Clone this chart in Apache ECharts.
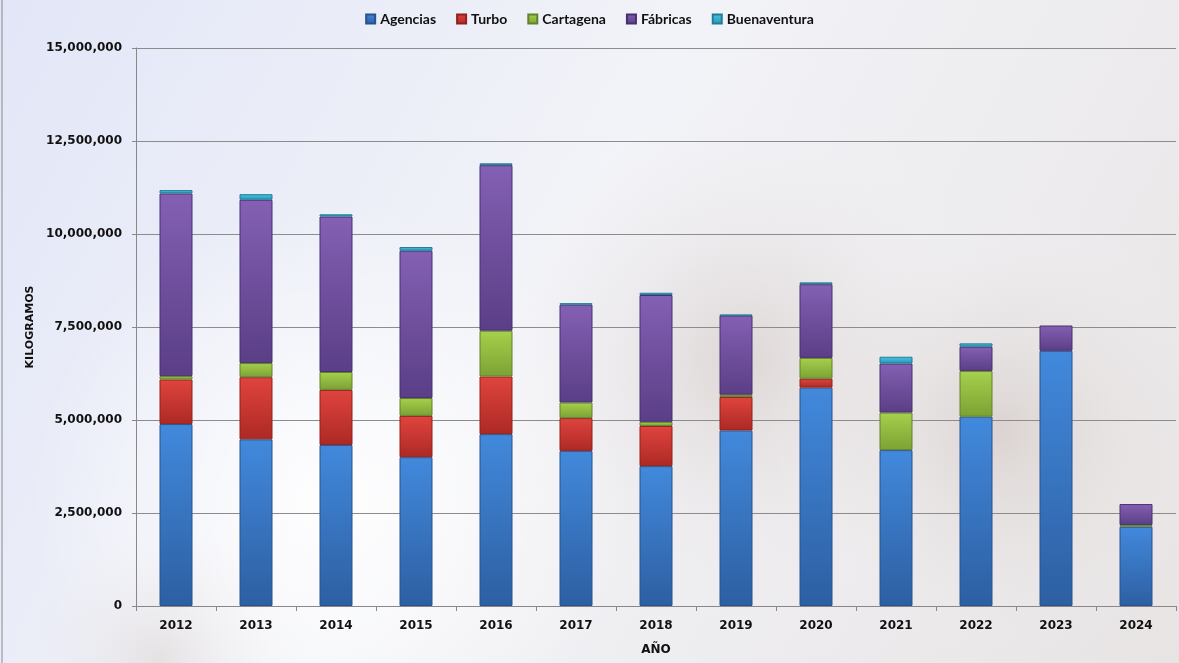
<!DOCTYPE html>
<html>
<head>
<meta charset="utf-8">
<script src="https://cdn.jsdelivr.net/npm/echarts@6/dist/echarts.min.js"></script>
<style>
  html, body { margin: 0; padding: 0; }
  #chart { width: 1179px; height: 663px; }
</style>
</head>
<body>
<div id="chart"></div>
<script>
  // years on the x axis
  const years = ['2012', '2013', '2014', '2015', '2016', '2017', '2018', '2019', '2020', '2021', '2022', '2023', '2024'];

  // kilograms per origin
  const agencias = [4890000, 4480000, 4330000, 4000000, 4620000, 4170000, 3760000, 4720000, 5870000, 4190000, 5090000, 6860000, 2130000];
  const turbo = [1200000, 1670000, 1480000, 1110000, 1550000, 880000, 1080000, 900000, 240000, 0, 0, 0, 0];
  const cartagena = [90000, 380000, 480000, 480000, 1230000, 420000, 110000, 60000, 560000, 1010000, 1230000, 0, 50000];
  const fabricas = [4910000, 4390000, 4180000, 3960000, 4450000, 2630000, 3410000, 2130000, 1980000, 1320000, 650000, 680000, 560000];
  const buenaventura = [90000, 150000, 60000, 100000, 50000, 40000, 60000, 20000, 50000, 180000, 90000, 0, 0];

  const seriesNames = ['Agencias', 'Turbo', 'Cartagena', 'Fábricas', 'Buenaventura'];
  const seriesData = [agencias, turbo, cartagena, fabricas, buenaventura];
  // top colour, bottom colour, border colour
  const palette = [
    ['#4289dc', '#2d5fa2', '#28528c'],
    ['#e0443e', '#ad2924', '#902020'],
    ['#a6d04c', '#7ba234', '#60822a'],
    ['#8460b4', '#5a3e86', '#48306e'],
    ['#48c6e2', '#2896b6', '#1f7d98']
  ];

  function blob(cx, cy, r, color) {
    return {
      type: 'circle',
      shape: { cx: cx, cy: cy, r: r },
      style: {
        fill: new echarts.graphic.RadialGradient(0.5, 0.5, 0.5, [
          { offset: 0, color: color },
          { offset: 1, color: 'rgba(255,255,255,0)' }
        ])
      },
      z: -10,
      silent: true
    };
  }

  const chart = echarts.init(document.getElementById('chart'));

  const series = seriesNames.map(function (name, i) {
    return {
      name: name,
      type: 'bar',
      stack: 'total',
      barWidth: 33,
      data: seriesData[i].map(function (v) { return v === 0 ? '-' : v; }),
      itemStyle: {
        color: new echarts.graphic.LinearGradient(0, 0, 0, 1, [
          { offset: 0, color: palette[i][0] },
          { offset: 1, color: palette[i][1] }
        ]),
        borderColor: palette[i][2],
        borderWidth: 1
      }
    };
  });

  const option = {
    backgroundColor: new echarts.graphic.LinearGradient(0, 0, 1, 1, [
      { offset: 0, color: '#e2e6f7' },
      { offset: 0.45, color: '#f2f3f8' },
      { offset: 1, color: '#e8e4e4' }
    ]),
    animation: false,
    color: palette.map(function (p) { return p[0]; }),
    graphic: [
      // faded photo feel behind the plot
      blob(330, 500, 300, 'rgba(255,255,255,0.95)'),
      blob(740, 360, 280, 'rgba(190,170,160,0.35)'),
      blob(1000, 430, 240, 'rgba(180,160,150,0.3)'),
      blob(160, 660, 160, 'rgba(200,185,175,0.3)'),
      { type: 'rect', shape: { x: 2, y: -2, width: 1200, height: 670 }, style: { fill: 'none', stroke: '#8a8a8a', lineWidth: 1 }, silent: true }
    ],
    legend: {
      top: 7,
      left: 'center',
      itemWidth: 9,
      itemHeight: 9,
      itemGap: 20,
      icon: 'rect',
      textStyle: { fontFamily: 'Lato', fontWeight: 'bold', fontSize: 14, color: '#111' }
    },
    grid: {
      left: 136,
      right: 3,
      top: 48,
      bottom: 57
    },
    xAxis: {
      type: 'category',
      data: years,
      name: 'AÑO',
      nameLocation: 'middle',
      nameGap: 38,
      nameTextStyle: { fontFamily: 'DejaVu Sans', fontWeight: 'bold', fontSize: 12, color: '#111' },
      axisLine: { lineStyle: { color: '#888' } },
      axisTick: { show: true, length: 5, lineStyle: { color: '#888' } },
      axisLabel: { fontFamily: 'DejaVu Sans', fontWeight: 'bold', fontSize: 12, color: '#111', margin: 14 }
    },
    yAxis: {
      type: 'value',
      min: 0,
      max: 15000000,
      interval: 2500000,
      name: 'KILOGRAMOS',
      nameLocation: 'middle',
      nameGap: 98,
      nameTextStyle: { fontFamily: 'DejaVu Sans', fontWeight: 'bold', fontSize: 11, color: '#111' },
      axisLine: { show: true, lineStyle: { color: '#888' } },
      axisTick: { show: true, length: 4, lineStyle: { color: '#888' } },
      axisLabel: {
        fontFamily: 'DejaVu Sans',
        fontWeight: 'bold',
        fontSize: 12,
        color: '#111',
        margin: 14,
        formatter: function (v) { return v.toLocaleString('en-US'); }
      },
      splitLine: { lineStyle: { color: '#8c8c8c', width: 1 } }
    },
    series: series
  };

  chart.setOption(option);
</script>
</body>
</html>
